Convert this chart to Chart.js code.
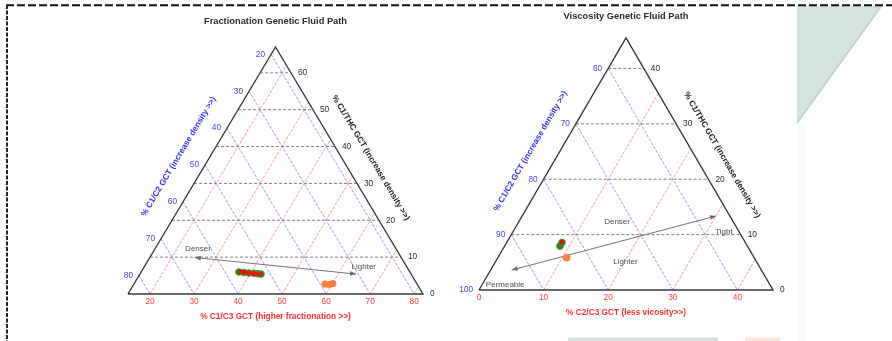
<!DOCTYPE html>
<html>
<head>
<meta charset="utf-8">
<title>Genetic Fluid Path</title>
<script src="https://cdn.jsdelivr.net/npm/chart.js@4.4.1/dist/chart.umd.min.js"></script>
<style>
  html, body { margin: 0; padding: 0; background: #fff; }
  #page { position: relative; width: 892px; height: 341px; overflow: hidden; }
  #page svg, #page canvas { position: absolute; top: 0; }
</style>
</head>
<body>
<div id="page">
  <svg width="892" height="341" style="left:0">
    <!-- slide backdrop -->
    <polygon points="797,6 882,6 797,123" fill="#d3e3e0"/>
    <line x1="882" y1="5" x2="797" y2="123" stroke="#c6d1cf" stroke-width="2"/>
    <rect x="797" y="123" width="8" height="218" fill="#f7fbfa"/>
    <rect x="568" y="337.5" width="150" height="4" fill="#d6dede"/>
    <rect x="745" y="337.5" width="35" height="4" fill="#fbe8da"/>
    <!-- dashed frame -->
    <line x1="6" y1="5.3" x2="892" y2="5.3" stroke="#111" stroke-width="2" stroke-dasharray="8,3"/>
    <line x1="7" y1="5" x2="7" y2="341" stroke="#222" stroke-width="2" stroke-dasharray="4,1.5"/>
  </svg>
  <canvas id="frac" width="446" height="341" style="left:0"></canvas>
  <canvas id="visc" width="446" height="341" style="left:446px"></canvas>
</div>

<script>
// ---------- Fractionation Genetic Fluid Path ----------
const fracC1C3Ticks  = [20, 30, 40, 50, 60, 70, 80];   // bottom axis
const fracC1C2Ticks  = [20, 30, 40, 50, 60, 70, 80];   // left axis
const fracC1THCTicks = [0, 10, 20, 30, 40, 50, 60];    // right axis

const fracGreenC1C3  = [37.2, 38.4, 39.6, 40.8, 41.8, 42.5];
const fracGreenC1THC = [5.97, 5.83, 5.70, 5.61, 5.48, 5.42];
const fracRedC1C3    = [37.6, 38.6, 39.5, 40.4, 41.2, 42.3];
const fracRedC1THC   = [6.05, 5.92, 5.78, 5.62, 5.42, 5.34];
const fracOrangeC1C3  = [58.4, 59.4, 60.1];
const fracOrangeC1THC = [2.71, 2.58, 2.85];

const fracArrowC1C3  = [64.1, 25.2];
const fracArrowC1THC = [5.4, 9.9];
const fracNotes      = ['Denser', 'Lighter'];
const fracNotesC1C3  = [24.8, 64.9];
const fracNotesC1THC = [12.2, 7.3];

// ---------- Viscosity Genetic Fluid Path ----------
const viscC2C3Ticks  = [0, 10, 20, 30, 40];
const viscC1C2Ticks  = [60, 70, 80, 90, 100];
const viscC1THCTicks = [0, 10, 20, 30, 40];

const viscGreenC2C3  = [8.57, 8.56];
const viscGreenC1THC = [7.94, 8.57];
const viscRedC2C3    = [8.5];
const viscRedC1THC   = [8.7];
const viscOrangeC2C3  = [10.66];
const viscOrangeC1THC = [5.83];

const viscArrowC2C3  = [3.25, 30.0];
const viscArrowC1THC = [3.6, 13.36];
const viscNotes      = ['Denser', 'Lighter', 'Tight', 'Permeable'];
const viscNotesC2C3  = [15.2, 20.1, 32.7, 3.6];
const viscNotesC1THC = [12.33, 5.11, 10.42, 0.9];

const FONT = '"Liberation Sans", Arial, Helvetica, sans-serif';
const zip = (as, cs) => as.map((a, i) => ({ a, c: cs[i] }));

// Ternary layout: bottom component a, horizontal component c, third = 100 - a - c.
// Cartesian position: x = a + c/2, y = c.
function ternaryChart(canvasId, cfg) {
  const aMin = cfg.aMin, bMin = cfg.bMin;
  const aMax = 100 - bMin;
  const cMax = 100 - aMin - bMin;
  const pt = (a, c) => ({ x: a + c / 2, y: c });

  const seg = (p, q, color, width, dash) => ({
    data: [p, q], showLine: true, borderColor: color, borderWidth: width,
    borderDash: dash, pointRadius: 0, pointHoverRadius: 0, fill: false, clip: false
  });

  const datasets = [];
  // samples (earlier datasets are painted on top)
  cfg.samples.forEach(s => datasets.push({
    data: s.points.map(p => pt(p.a, p.c)), showLine: false,
    pointRadius: s.radius, pointHoverRadius: s.radius,
    backgroundColor: s.fill, borderColor: s.stroke, borderWidth: s.strokeWidth, clip: false
  }));
  // trend arrow
  datasets.push(seg(pt(cfg.arrow[0].a, cfg.arrow[0].c), pt(cfg.arrow[1].a, cfg.arrow[1].c), '#747474', 1, []));
  // outline
  datasets.push({
    data: [pt(aMin, 0), pt(aMin, cMax), pt(aMax, 0), pt(aMin, 0)], showLine: true,
    borderColor: '#383838', borderWidth: 1.4, pointRadius: 0, pointHoverRadius: 0, fill: false, clip: false
  });
  // horizontal grid (third axis, right labels)
  cfg.cTicks.filter(c => c > 0 && c < cMax).forEach(c =>
    datasets.push(seg(pt(aMin, c), pt(100 - bMin - c, c), '#808080', 1, [3, 2])));
  // left-axis grid (parallel to right edge)
  cfg.bTicks.filter(b => b > bMin && b < 100 - aMin).forEach(b =>
    datasets.push(seg(pt(aMin, 100 - b - aMin), pt(100 - b, 0), '#8a8aff', 0.9, [3, 1.5])));
  // bottom-axis grid (parallel to left edge)
  cfg.aTicks.filter(a => a > aMin && a < aMax).forEach(a =>
    datasets.push(seg(pt(a, 0), pt(a, 100 - bMin - a), '#ff8a8a', 0.9, [3, 1.5])));

  const overlay = {
    id: 'ternaryOverlay',
    afterDatasetsDraw(chart) {
      const ctx = chart.ctx, xs = chart.scales.x, ys = chart.scales.y;
      const P = (a, c) => [xs.getPixelForValue(a + c / 2), ys.getPixelForValue(c)];
      ctx.save();

      // arrow heads on both ends
      const [ax0, ay0] = P(cfg.arrow[0].a, cfg.arrow[0].c);
      const [ax1, ay1] = P(cfg.arrow[1].a, cfg.arrow[1].c);
      const head = (tx, ty, fx, fy) => {
        const ang = Math.atan2(ty - fy, tx - fx);
        ctx.beginPath();
        ctx.moveTo(tx, ty);
        ctx.lineTo(tx - 6 * Math.cos(ang) + 2.4 * Math.sin(ang), ty - 6 * Math.sin(ang) - 2.4 * Math.cos(ang));
        ctx.lineTo(tx - 6 * Math.cos(ang) - 2.4 * Math.sin(ang), ty - 6 * Math.sin(ang) + 2.4 * Math.cos(ang));
        ctx.closePath();
        ctx.fillStyle = '#6a6a6a';
        ctx.fill();
      };
      head(ax0, ay0, ax1, ay1);
      head(ax1, ay1, ax0, ay0);

      // tick labels
      ctx.font = `8.3px ${FONT}`;
      ctx.textBaseline = 'middle';
      ctx.textAlign = 'center';
      ctx.fillStyle = '#ff3c3c';
      cfg.aTicks.forEach(a => { const [x, y] = P(a, 0); ctx.fillText(String(a), x, y + 8); });
      ctx.textAlign = 'right';
      ctx.fillStyle = '#4444ff';
      cfg.bTicks.forEach(b => { const [x, y] = P(aMin, 100 - b - aMin); ctx.fillText(String(b), x - 6, y); });
      ctx.textAlign = 'left';
      ctx.fillStyle = '#2a2a2a';
      cfg.cTicks.forEach(c => { const [x, y] = P(100 - bMin - c, c); ctx.fillText(String(c), x + 7, y); });

      // in-plot notes
      ctx.font = `8px ${FONT}`;
      ctx.textAlign = 'center';
      ctx.fillStyle = '#4d4d4d';
      cfg.notes.forEach(n => { const [x, y] = P(n.a, n.c); ctx.fillText(n.text, x, y); });

      // chart title
      const [bx0, by0] = P(aMin, 0);
      const [tx, ty] = P(aMin, cMax);
      const [bx1, by1] = P(aMax, 0);
      ctx.font = `bold 9.3px ${FONT}`;
      ctx.fillStyle = '#2b2b2b';
      ctx.fillText(cfg.title, tx, cfg.titleY);

      // axis titles
      ctx.font = `bold 8.3px ${FONT}`;
      ctx.fillStyle = '#ff3030';
      ctx.fillText(cfg.aTitle, (bx0 + bx1) / 2, by0 + 23);

      const edgeTitle = (x0, y0, x1, y1, text, color, off, along) => {
        const len = Math.hypot(x1 - x0, y1 - y0);
        const ux = (x1 - x0) / len, uy = (y1 - y0) / len;
        const cx = (x0 + x1) / 2 + uy * off + ux * along;
        const cy = (y0 + y1) / 2 - ux * off + uy * along;
        ctx.save();
        ctx.translate(cx, cy);
        ctx.rotate(Math.atan2(uy, ux));
        ctx.fillStyle = color;
        ctx.fillText(text, 0, 0);
        ctx.restore();
      };
      edgeTitle(bx0, by0, tx, ty, cfg.bTitle, '#3030ff', cfg.bTitleOff, 0);
      edgeTitle(tx, ty, bx1, by1, cfg.cTitle, '#1a1a1a', cfg.cTitleOff, cfg.cTitleAlong);

      ctx.restore();
    }
  };

  return new Chart(document.getElementById(canvasId), {
    type: 'scatter',
    data: { datasets },
    options: {
      responsive: false,
      maintainAspectRatio: false,
      animation: false,
      events: [],
      layout: { padding: cfg.padding },
      plugins: { legend: { display: false }, tooltip: { enabled: false }, title: { display: false } },
      scales: {
        x: { type: 'linear', display: false, min: aMin, max: aMax },
        y: { type: 'linear', display: false, min: 0, max: cMax }
      }
    },
    plugins: [overlay]
  });
}

ternaryChart('frac', {
  aMin: 15, bMin: 18,
  aTicks: fracC1C3Ticks, bTicks: fracC1C2Ticks, cTicks: fracC1THCTicks,
  samples: [
    { points: zip(fracRedC1C3, fracRedC1THC), radius: 2.3, fill: '#ee1208', stroke: '#ee1208', strokeWidth: 0 },
    { points: zip(fracOrangeC1C3, fracOrangeC1THC), radius: 3.6, fill: '#ff7f3a', stroke: '#ff7f3a', strokeWidth: 0 },
    { points: zip(fracGreenC1C3, fracGreenC1THC), radius: 3.3, fill: '#2f7a16', stroke: '#4a9a2c', strokeWidth: 1 }
  ],
  arrow: zip(fracArrowC1C3, fracArrowC1THC),
  notes: fracNotes.map((text, i) => ({ text, a: fracNotesC1C3[i], c: fracNotesC1THC[i] })),
  title: 'Fractionation Genetic Fluid Path', titleY: 21,
  aTitle: '% C1/C3 GCT (higher fractionation >>)',
  bTitle: '% C1/C2 GCT (increase density >>)', bTitleOff: 27,
  cTitle: '% C1/THC GCT (increase density >>)', cTitleOff: 25, cTitleAlong: 0,
  padding: { left: 128, right: 23, top: 47, bottom: 47 }
});

ternaryChart('visc', {
  aMin: 0, bMin: 54.5,
  aTicks: viscC2C3Ticks, bTicks: viscC1C2Ticks, cTicks: viscC1THCTicks,
  samples: [
    { points: zip(viscRedC2C3, viscRedC1THC), radius: 2.3, fill: '#ee1208', stroke: '#ee1208', strokeWidth: 0 },
    { points: zip(viscOrangeC2C3, viscOrangeC1THC), radius: 3.8, fill: '#ff7f3a', stroke: '#ff7f3a', strokeWidth: 0 },
    { points: zip(viscGreenC2C3, viscGreenC1THC), radius: 3.4, fill: '#2f7a16', stroke: '#4a9a2c', strokeWidth: 1 }
  ],
  arrow: zip(viscArrowC2C3, viscArrowC1THC),
  notes: viscNotes.map((text, i) => ({ text, a: viscNotesC2C3[i], c: viscNotesC1THC[i] })),
  title: 'Viscosity Genetic Fluid Path', titleY: 16,
  aTitle: '% C2/C3 GCT (less vicosity>>)',
  bTitle: '% C1/C2 GCT (increase density >>)', bTitleOff: 25.5,
  cTitle: '% C1/THC GCT (increase density >>)', cTitleOff: 24, cTitleAlong: 3.6,
  padding: { left: 33, right: 119, top: 38, bottom: 51 }
});
</script>
</body>
</html>
